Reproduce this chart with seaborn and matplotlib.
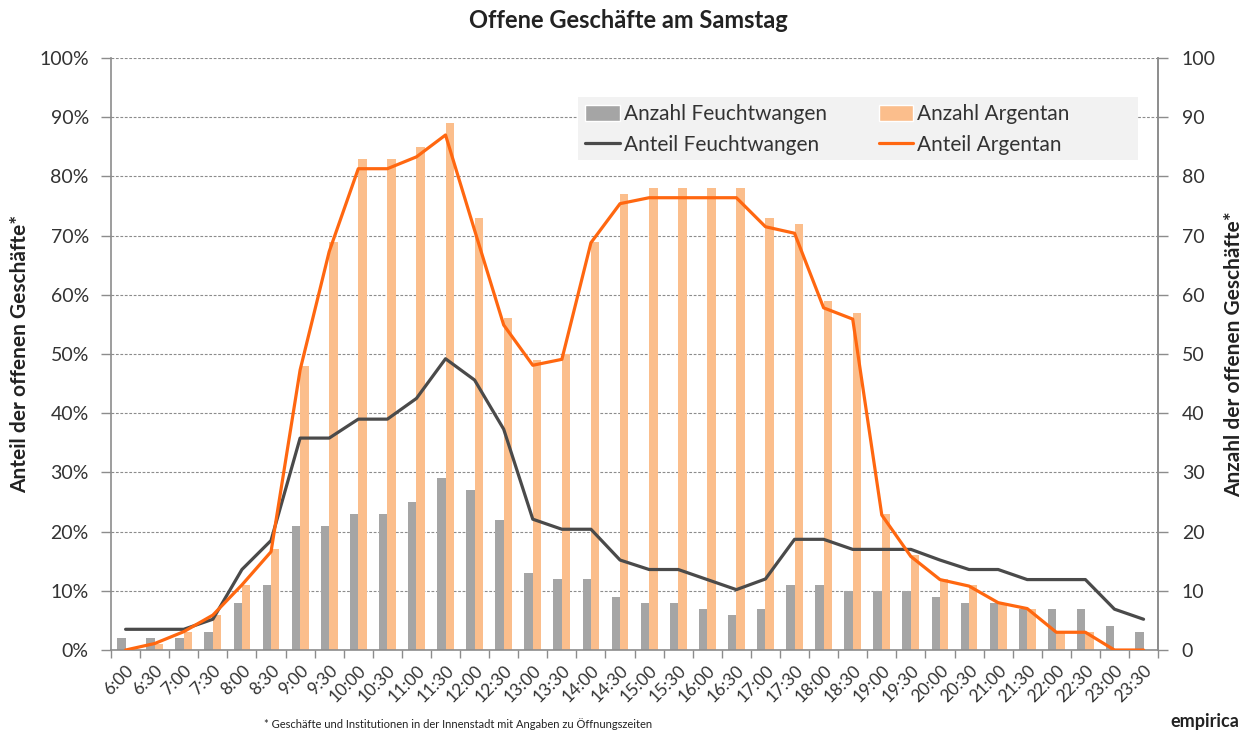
import numpy as np
import pandas as pd
import matplotlib
matplotlib.use("Agg")
import matplotlib.pyplot as plt
import seaborn as sns
from matplotlib.patches import Patch, Rectangle
from matplotlib.lines import Line2D

# ==========================================================
# Daten
# ==========================================================
zeiten = ["6:00", "6:30", "7:00", "7:30", "8:00", "8:30", "9:00", "9:30",
          "10:00", "10:30", "11:00", "11:30", "12:00", "12:30", "13:00", "13:30",
          "14:00", "14:30", "15:00", "15:30", "16:00", "16:30", "17:00", "17:30",
          "18:00", "18:30", "19:00", "19:30", "20:00", "20:30", "21:00", "21:30",
          "22:00", "22:30", "23:00", "23:30"]

anzahl_feu = [2, 2, 2, 3, 8, 11, 21, 21, 23, 23, 25, 29, 27, 22, 13, 12, 12, 9,
              8, 8, 7, 6, 7, 11, 11, 10, 10, 10, 9, 8, 8, 7, 7, 7, 4, 3]
anzahl_arg = [0, 1, 3, 6, 11, 17, 48, 69, 83, 83, 85, 89, 73, 56, 49, 50, 69, 77,
              78, 78, 78, 78, 73, 72, 59, 57, 23, 16, 12, 11, 8, 7, 3, 3, 0, 0]

anteil_feu = [3.5, 3.5, 3.5, 5.2, 13.6, 18.5, 35.8, 35.8, 39.0, 39.0, 42.5, 49.2,
              45.6, 37.3, 22.1, 20.4, 20.4, 15.2, 13.6, 13.6, 11.9, 10.2, 12.0, 18.7,
              18.7, 17.0, 17.0, 17.0, 15.2, 13.6, 13.6, 11.9, 11.9, 11.9, 6.9, 5.2]
anteil_arg = [0.0, 1.1, 3.1, 5.9, 11.0, 16.6, 47.3, 67.3, 81.3, 81.3, 83.3, 87.0,
              70.9, 54.9, 48.1, 49.1, 68.8, 75.4, 76.4, 76.4, 76.4, 76.4, 71.5, 70.4,
              57.8, 55.9, 22.8, 15.8, 11.9, 10.8, 8.0, 7.0, 3.0, 3.0, 0.0, 0.0]

C_GRAU_BAR = "#A5A5A5"
C_ORANGE_BAR = "#FBBE8C"
C_GRAU_LINE = "#4A4A4A"
C_ORANGE_LINE = "#FF6710"
C_ACHSE = "#8C8C8C"

sns.set_theme(style="white")
plt.rcParams["font.family"] = ["Lato", "DejaVu Sans"]

bars = pd.DataFrame({
    "zeit": zeiten * 2,
    "anzahl": anzahl_feu + anzahl_arg,
    "ort": ["Anzahl Feuchtwangen"] * len(zeiten) + ["Anzahl Argentan"] * len(zeiten),
})

fig = plt.figure(figsize=(12.45, 7.39), dpi=100)
ax = fig.add_axes([0.0892, 0.1204, 0.8410, 0.8011])

sns.barplot(data=bars, x="zeit", y="anzahl", hue="ort", order=zeiten,
            palette=[C_GRAU_BAR, C_ORANGE_BAR], width=0.58, gap=0,
            saturation=1, linewidth=0, legend=False, ax=ax, zorder=2)

x = np.arange(len(zeiten))
sns.lineplot(x=x, y=anteil_feu, color=C_GRAU_LINE, linewidth=2.3, ax=ax, zorder=3)
sns.lineplot(x=x, y=anteil_arg, color=C_ORANGE_LINE, linewidth=2.3, ax=ax, zorder=4)

ax.set_xlim(-0.5, len(zeiten) - 0.5)
ax.set_ylim(0, 100)
ax.set_yticks(np.arange(0, 101, 10))
ax.set_yticklabels([f"{v}%" for v in range(0, 101, 10)], fontsize=14, color="#333333")
ax.yaxis.grid(True, linestyle=(0, (2.5, 1.5)), color="#8C8C8C", linewidth=0.8, zorder=0)
ax.set_axisbelow(True)

ax.set_xticks(x)
ax.set_xticklabels(zeiten, rotation=45, ha="right", rotation_mode="anchor",
                   fontsize=12.5, color="#333333")
ax.set_xticks(np.arange(-0.5, len(zeiten)), minor=True)
ax.tick_params(axis="x", which="major", length=0, pad=9)
ax.tick_params(axis="x", which="minor", length=6, width=1, color=C_ACHSE,
               direction="out", bottom=True)
ax.tick_params(axis="y", which="major", length=7, width=1, color=C_ACHSE,
               direction="out", pad=9, left=True)

ax.spines["top"].set_visible(False)
for s in ["left", "right", "bottom"]:
    ax.spines[s].set_visible(True)
    ax.spines[s].set_color(C_ACHSE)
    ax.spines[s].set_linewidth(1.2)

ax.set_xlabel("")
ax.set_ylabel("Anteil der offenen Geschäfte*", fontsize=15, fontweight="bold",
              color="#222222")
ax.yaxis.set_label_coords(-0.077, 0.5)

ax2 = ax.twinx()
ax2.set_ylim(0, 100)
ax2.set_yticks(np.arange(0, 101, 10))
ax2.set_yticklabels([str(v) for v in range(0, 101, 10)], fontsize=14, color="#333333")
ax2.tick_params(axis="y", length=7, width=1, color=C_ACHSE, direction="out",
                pad=10, right=True)
for s in ["top", "left", "bottom"]:
    ax2.spines[s].set_visible(False)
ax2.spines["right"].set_color(C_ACHSE)
ax2.spines["right"].set_linewidth(1.2)
ax2.set_ylabel("Anzahl der offenen Geschäfte*", fontsize=15, fontweight="bold",
               color="#222222", rotation=90)
ax2.yaxis.set_label_position("right")
ax2.yaxis.set_label_coords(1.063, 0.5)

# Legende mit grauem Hintergrundkasten
ax2.add_patch(Rectangle((0.446, 0.828), 0.535, 0.106, transform=ax2.transAxes,
                        facecolor="#F2F2F2", edgecolor="none", zorder=5))
handles = [
    Patch(facecolor=C_GRAU_BAR, label="Anzahl Feuchtwangen"),
    Line2D([0], [0], color=C_GRAU_LINE, linewidth=2.3, label="Anteil Feuchtwangen"),
    Patch(facecolor=C_ORANGE_BAR, label="Anzahl Argentan"),
    Line2D([0], [0], color=C_ORANGE_LINE, linewidth=2.3, label="Anteil Argentan"),
]
leg = ax2.legend(handles=handles, ncol=2, loc="upper left",
                 bbox_to_anchor=(0.446, 0.934), frameon=False, fontsize=15,
                 handlelength=1.65, handleheight=0.8, handletextpad=0.2,
                 columnspacing=2.5, labelspacing=0.5, borderpad=0.35,
                 borderaxespad=0)
leg.set_zorder(6)
for t in leg.get_texts():
    t.set_color("#333333")

fig.text(0.505, 0.972, "Offene Geschäfte am Samstag", ha="center", va="center",
         fontsize=17, fontweight="bold", color="#222222")
fig.text(0.212, 0.012, "* Geschäfte und Institutionen in der Innenstadt mit Angaben zu Öffnungszeiten",
         ha="left", va="bottom", fontsize=8, color="#222222")
fig.text(0.995, 0.012, "empirica", ha="right", va="bottom", fontsize=13,
         fontweight="bold", color="#222222")

fig.savefig("out.png", dpi=100)
